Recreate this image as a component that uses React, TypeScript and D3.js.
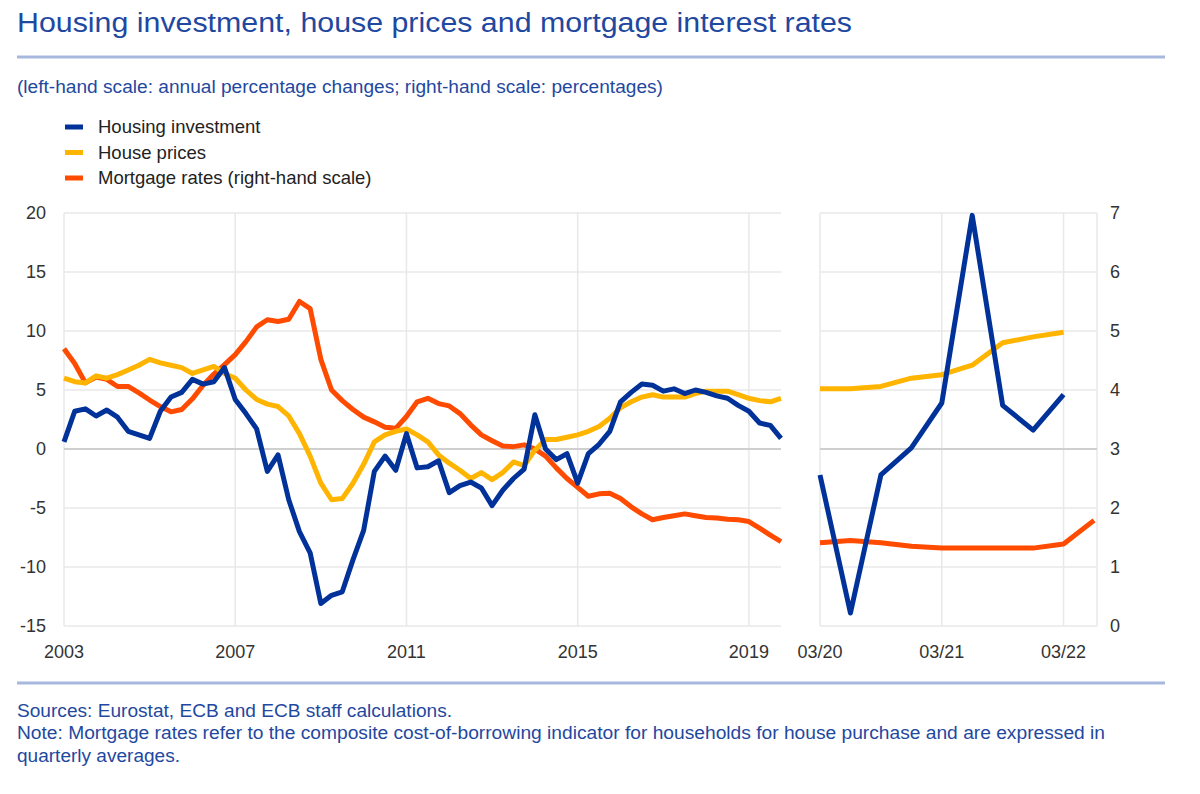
import React, { useEffect } from 'react';
import * as d3 from 'd3';

// Left panel: quarterly, 2003Q1 - 2019Q4
const yearLabels = ['2003', '2007', '2011', '2015', '2019'];
// Right panel: quarterly, 2020Q1 - 2022Q2
const recentLabels = ['03/20', '03/21', '03/22'];
const leftTicks = [20, 15, 10, 5, 0, -5, -10, -15];
const rightTicks = [7, 6, 5, 4, 3, 2, 1, 0];

const housingInvestment = [
  0.6, 3.2, 3.4, 2.8, 3.3, 2.7, 1.5, 1.2, 0.9, 3.2, 4.4, 4.8, 5.9, 5.5, 5.7, 6.9,
  4.2, 3.0, 1.7, -1.9, -0.5, -4.3, -7.0, -8.8, -13.1, -12.4, -12.1, -9.4, -6.9, -1.9, -0.6, -1.8,
  1.3, -1.6, -1.5, -1.0, -3.7, -3.1, -2.8, -3.3, -4.8, -3.5, -2.5, -1.7, 2.9, 0.0, -0.9, -0.4,
  -2.9, -0.4, 0.4, 1.5, 4.0, 4.8, 5.5, 5.4, 4.9, 5.1, 4.7, 5.0, 4.8, 4.5, 4.3, 3.7,
  3.2, 2.2, 2.0, 0.9,
];
const housePrices = [
  6.0, 5.7, 5.6, 6.2, 6.0, 6.3, 6.7, 7.1, 7.6, 7.3, 7.1, 6.9, 6.4, 6.7, 7.0, 6.4,
  6.0, 5.0, 4.2, 3.8, 3.6, 2.8, 1.3, -0.6, -2.9, -4.3, -4.2, -2.9, -1.3, 0.6, 1.2, 1.5,
  1.7, 1.2, 0.6, -0.5, -1.2, -1.8, -2.5, -2.0, -2.6, -2.0, -1.1, -1.4, -0.1, 0.8, 0.8, 1.0,
  1.2, 1.5, 1.9, 2.6, 3.5, 4.0, 4.4, 4.6, 4.4, 4.4, 4.4, 4.7, 4.9, 4.9, 4.9, 4.6,
  4.3, 4.1, 4.0, 4.3,
];
const mortgageRates = [
  4.70, 4.45, 4.12, 4.22, 4.18, 4.06, 4.06, 3.95, 3.83, 3.72, 3.63, 3.67, 3.85, 4.08, 4.27, 4.43,
  4.60, 4.82, 5.07, 5.19, 5.16, 5.20, 5.50, 5.38, 4.52, 4.00, 3.82, 3.67, 3.54, 3.46, 3.37, 3.35,
  3.55, 3.80, 3.86, 3.77, 3.73, 3.60, 3.41, 3.24, 3.14, 3.05, 3.04, 3.07, 3.00, 2.88, 2.68, 2.50,
  2.35, 2.20, 2.24, 2.25, 2.16, 2.02, 1.90, 1.80, 1.84, 1.87, 1.90, 1.87, 1.84, 1.83, 1.81, 1.80,
  1.77, 1.66, 1.54, 1.43,
];

const housingInvestmentRecent = [-2.2, -13.9, -2.2, 0.1, 3.9, 19.8, 3.7, 1.6, 4.6];
const housePricesRecent = [5.1, 5.1, 5.3, 6.0, 6.3, 7.1, 9.0, 9.5, 9.9];
const mortgageRatesRecent = [1.41, 1.45, 1.41, 1.35, 1.32, 1.32, 1.32, 1.32, 1.39, 1.79];

const legendItems = [
  { label: 'Housing investment', color: '#003299' },
  { label: 'House prices', color: '#ffb400' },
  { label: 'Mortgage rates (right-hand scale)', color: '#ff4b00' },
];

const FONT = '"Liberation Sans", Arial, Helvetica, sans-serif';
const TEXT_BLUE = '#1f48a0';
const RULE_BLUE = '#a7b8de';
const GRID = '#e8e8e8';

export default function App() {
  useEffect(() => {
    document.body.style.margin = '0';
  }, []);

  const width = 1200;
  const height = 794;
  const top = 213;
  const bottom = 626;

  const yLeft = d3.scaleLinear().domain([-15, 20]).range([bottom, top]);
  const yRight = d3.scaleLinear().domain([0, 7]).range([bottom, top]);

  const xMain = d3.scaleLinear().domain([0, housingInvestment.length - 1]).range([64, 781]);
  const xRecent = d3.scaleLinear().domain([0, mortgageRatesRecent.length - 1]).range([820, 1094]);

  const mainLeft = d3.line<number>().x((_, i) => xMain(i)).y(d => yLeft(d));
  const mainRight = d3.line<number>().x((_, i) => xMain(i)).y(d => yRight(d));
  const recentLeft = d3.line<number>().x((_, i) => xRecent(i)).y(d => yLeft(d));
  const recentRight = d3.line<number>().x((_, i) => xRecent(i)).y(d => yRight(d));

  const yearIdx = yearLabels.map((_, i) => i * 16);
  const recentIdx = recentLabels.map((_, i) => i * 4);

  const mainX0 = xMain(0);
  const mainX1 = xMain(housingInvestment.length - 1);
  const recX0 = xRecent(0);
  const recX1 = xRecent(mortgageRatesRecent.length - 1) + 3;

  const lineStyle = { fill: 'none', strokeWidth: 5, strokeLinejoin: 'round' as const, strokeLinecap: 'butt' as const };

  return (
    <svg width={width} height={height} style={{ position: 'absolute', left: 0, top: 0, background: '#fff' }} fontFamily={FONT}>
      {/* header */}
      <text x={17} y={32} fontSize={27} fill={TEXT_BLUE} textLength={835} lengthAdjust="spacingAndGlyphs">
        Housing investment, house prices and mortgage interest rates
      </text>
      <line x1={17} x2={1165} y1={57} y2={57} stroke={RULE_BLUE} strokeWidth={3} />
      <text x={17} y={93} fontSize={17.5} fill={TEXT_BLUE} textLength={646} lengthAdjust="spacingAndGlyphs">
        (left-hand scale: annual percentage changes; right-hand scale: percentages)
      </text>

      {/* legend */}
      {legendItems.map((d, i) => (
        <g key={d.label} transform={`translate(0,${127 + i * 25.5})`}>
          <line x1={65} x2={83} y1={0} y2={0} stroke={d.color} strokeWidth={5} />
          <text x={98} y={6} fontSize={18.5} fill="#222">{d.label}</text>
        </g>
      ))}

      {/* grid, left panel */}
      {leftTicks.map(t => (
        <line key={`hl${t}`} x1={mainX0} x2={mainX1} y1={yLeft(t)} y2={yLeft(t)} stroke={GRID} strokeWidth={1.5} />
      ))}
      {yearIdx.map(i => (
        <line key={`vl${i}`} x1={xMain(i)} x2={xMain(i)} y1={top} y2={bottom} stroke={GRID} strokeWidth={1.5} />
      ))}
      {/* grid, right panel */}
      {leftTicks.map(t => (
        <line key={`hr${t}`} x1={recX0} x2={recX1} y1={yLeft(t)} y2={yLeft(t)} stroke={GRID} strokeWidth={1.5} />
      ))}
      {recentIdx.map(i => (
        <line key={`vr${i}`} x1={xRecent(i)} x2={xRecent(i)} y1={top} y2={bottom} stroke={GRID} strokeWidth={1.5} />
      ))}
      <line x1={recX1} x2={recX1} y1={top} y2={bottom} stroke={GRID} strokeWidth={1.5} />

      {/* zero lines */}
      <line x1={mainX0} x2={mainX1} y1={yLeft(0)} y2={yLeft(0)} stroke="#cfcfcf" strokeWidth={2} />
      <line x1={recX0} x2={recX1} y1={yLeft(0)} y2={yLeft(0)} stroke="#cfcfcf" strokeWidth={2} />

      {/* left axis */}
      {leftTicks.map(t => (
        <text key={`lt${t}`} x={46} y={yLeft(t) + 6} fontSize={18} fill="#333" textAnchor="end">{t}</text>
      ))}
      {/* right axis */}
      {rightTicks.map(t => (
        <text key={`rt${t}`} x={1110} y={yRight(t) + 6} fontSize={18} fill="#333">{t}</text>
      ))}
      {/* x axis */}
      {yearLabels.map((l, i) => (
        <text key={l} x={xMain(yearIdx[i])} y={658} fontSize={18} fill="#333" textAnchor="middle">{l}</text>
      ))}
      {recentLabels.map((l, i) => (
        <text key={l} x={xRecent(recentIdx[i])} y={658} fontSize={18} fill="#333" textAnchor="middle">{l}</text>
      ))}

      {/* series */}
      <path d={mainRight(mortgageRates) ?? ''} stroke="#ff4b00" style={lineStyle} />
      <path d={mainLeft(housePrices) ?? ''} stroke="#ffb400" style={lineStyle} />
      <path d={mainLeft(housingInvestment) ?? ''} stroke="#003299" style={lineStyle} />
      <path d={recentRight(mortgageRatesRecent) ?? ''} stroke="#ff4b00" style={lineStyle} />
      <path d={recentLeft(housePricesRecent) ?? ''} stroke="#ffb400" style={lineStyle} />
      <path d={recentLeft(housingInvestmentRecent) ?? ''} stroke="#003299" style={lineStyle} />

      {/* footer */}
      <line x1={17} x2={1165} y1={683} y2={683} stroke={RULE_BLUE} strokeWidth={3} />
      <text x={17} y={717} fontSize={17.5} fill={TEXT_BLUE} textLength={435} lengthAdjust="spacingAndGlyphs">
        Sources: Eurostat, ECB and ECB staff calculations.
      </text>
      <text x={17} y={739} fontSize={17.5} fill={TEXT_BLUE} textLength={1088} lengthAdjust="spacingAndGlyphs">
        Note: Mortgage rates refer to the composite cost-of-borrowing indicator for households for house purchase and are expressed in
      </text>
      <text x={17} y={762} fontSize={17.5} fill={TEXT_BLUE} textLength={163} lengthAdjust="spacingAndGlyphs">
        quarterly averages.
      </text>
    </svg>
  );
}
